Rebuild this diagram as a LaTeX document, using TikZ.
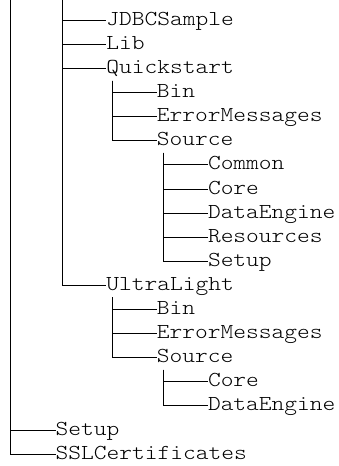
\documentclass[tikz,border=0pt]{standalone}
\usepackage{fontspec}
\newfontfamily\treefont{Latin Modern Mono Light}[FakeStretch=1.14]
\begin{document}
\begin{tikzpicture}[x=1pt,y=-1pt,
  entry/.style={anchor=west,inner sep=0pt,outer sep=0pt,text height=17pt,text depth=7pt,
    font=\treefont\fontsize{21.3}{24}\selectfont,text=black},
  branch/.style={draw=black,line width=1pt}]
\useasboundingbox (0,0) rectangle (338,466);
\def\rowy#1{20.3+24.1*#1}
% tops of the two outer verticals (their parents lie above the picture)
\coordinate (r0) at (10,-2);
\coordinate (r1) at (62,-2);
% level x positions
\def\La{55.7}\def\Lb{106.3}\def\Lc{156.8}\def\Ld{208}
\node[entry] (jdbc) at (\Lb,{\rowy{0}}) {JDBCSample};
\node[entry] (lib)  at (\Lb,{\rowy{1}}) {Lib};
\node[entry] (q)    at (\Lb,{\rowy{2}}) {Quickstart};
\node[entry] (qbin) at (\Lc,{\rowy{3}}) {Bin};
\node[entry] (qerr) at (\Lc,{\rowy{4}}) {ErrorMessages};
\node[entry] (qs)   at (\Lc,{\rowy{5}}) {Source};
\node[entry] (qcom) at (\Ld,{\rowy{6}}) {Common};
\node[entry] (qcor) at (\Ld,{\rowy{7}}) {Core};
\node[entry] (qde)  at (\Ld,{\rowy{8}}) {DataEngine};
\node[entry] (qres) at (\Ld,{\rowy{9}}) {Resources};
\node[entry] (qset) at (\Ld,{\rowy{10}}) {Setup};
\node[entry] (u)    at (\Lb,{\rowy{11}}) {UltraLight};
\node[entry] (ubin) at (\Lc,{\rowy{12}}) {Bin};
\node[entry] (uerr) at (\Lc,{\rowy{13}}) {ErrorMessages};
\node[entry] (us)   at (\Lc,{\rowy{14}}) {Source};
\node[entry] (ucor) at (\Ld,{\rowy{15}}) {Core};
\node[entry] (ude)  at (\Ld,{\rowy{16}}) {DataEngine};
\node[entry] (set)  at (\La,{\rowy{17}}) {Setup};
\node[entry] (ssl)  at (\La,{\rowy{18}}) {SSLCertificates};
% connectors
\foreach \c in {jdbc,lib,q,u} \draw[branch] (r1) |- (\c.west);
\foreach \c in {set,ssl} \draw[branch] (r0) |- (\c.west);
\foreach \c in {qbin,qerr,qs} \draw[branch] ([xshift=6.3pt]q.south west) |- (\c.west);
\foreach \c in {qcom,qcor,qde,qres,qset} \draw[branch] ([xshift=6.3pt]qs.south west) |- (\c.west);
\foreach \c in {ubin,uerr,us} \draw[branch] ([xshift=6.3pt]u.south west) |- (\c.west);
\foreach \c in {ucor,ude} \draw[branch] ([xshift=6.3pt]us.south west) |- (\c.west);
\end{tikzpicture}
\end{document}
